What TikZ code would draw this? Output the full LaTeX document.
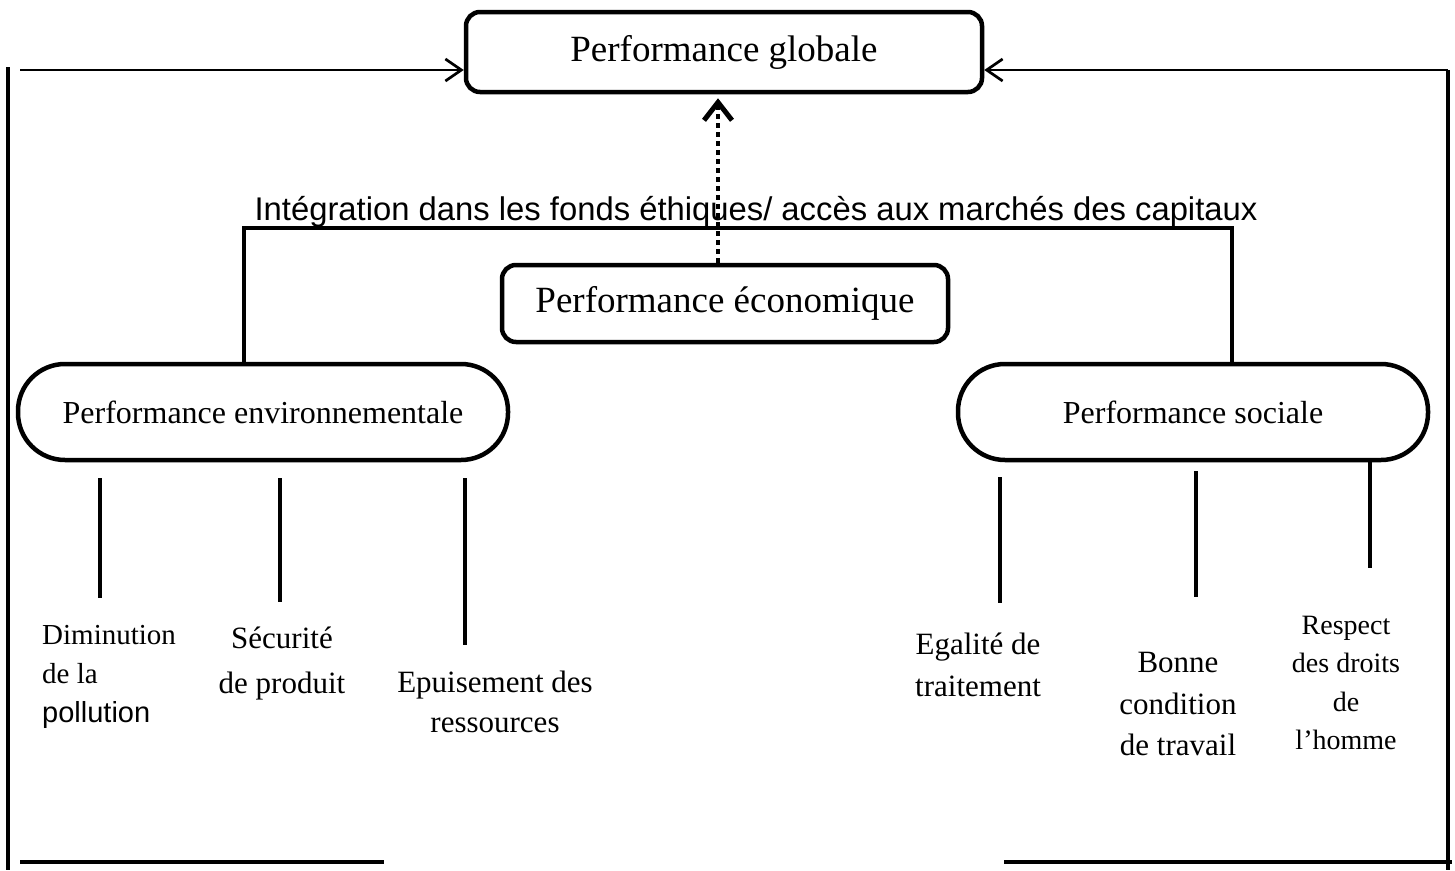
\documentclass[tikz,border=0pt]{standalone}
\usepackage{fontspec}
\setmainfont{Liberation Serif}
\newfontfamily\arialfont{Liberation Sans}
\usetikzlibrary{arrows.meta}

\tikzset{
  box/.style={draw, line width=4.5pt, rounded corners=14pt, inner sep=0pt,
    font=\fontsize{37}{44}\selectfont},
  pill/.style={draw, line width=4.5pt, rounded corners=47pt, inner sep=0pt,
    minimum height=96pt, font=\fontsize{32}{38}\selectfont},
  lbl/.style={inner sep=0pt, align=center},
  link/.style={line width=3.8pt},
  arr/.style={line width=2.7pt, -{Straight Barb[length=16pt,width=22pt]}},
  dotarr/.style={line width=4.5pt, dash pattern=on 4.5pt off 4.5pt,
    -{Straight Barb[length=18pt,width=28pt,line width=5pt]}}
}

\begin{document}
\begin{tikzpicture}[x=1pt, y=-1pt]
\useasboundingbox (0,0) rectangle (1455,870);

% main nodes
\node[box, minimum width=516pt, minimum height=80pt] (global) at (724,52) {Performance globale};
\node[box, minimum width=446pt, minimum height=77pt] (econ) at (725,303.5) {Performance économique};
\node[pill, minimum width=490pt] (env) at (263,412) {Performance environnementale};
\node[pill, minimum width=470pt] (soc) at (1193,412) {Performance sociale};

% label of the ethical funds bracket
\node[inner sep=0pt, anchor=base, font=\arialfont\fontsize{32.8}{38}\selectfont] (integ) at (756,220)
  {Intégration dans les fonds éthiques/ accès aux marchés des capitaux};

% bracket joining the environmental and social sides
\coordinate (ileft) at (244,228);
\coordinate (iright) at (1232,228);
\draw[link] (ileft |- env.north) -- (ileft) -- (iright) -- (iright |- soc.north);

% dotted arrow from the economic box up to the global box
\coordinate (dx) at (718,0);
\coordinate (gtip) at ([yshift=-4pt]global.south);
\draw[dotarr] (econ.north -| dx) -- (gtip -| dx);

% outer frame with arrows into the global box
\coordinate (la) at (20,70);
\coordinate (lv1) at (8,67);
\coordinate (lv2) at (8,870);
\coordinate (rt) at (1448,70);
\coordinate (rb) at (1448,870);
\coordinate (bl1) at (20,862);
\coordinate (bl2) at (384,862);
\coordinate (br1) at (1004,862);
\coordinate (br2) at (1452,862);
\draw[arr] (la) -- (la -| global.west);
\draw[arr] (rt) -- (rt -| global.east);
\draw[link] (lv1) -- (lv2);
\draw[link] (rt) -- (rb);
\draw[link] (bl1) -- (bl2);
\draw[link] (br1) -- (br2);

% environmental indicators
\coordinate (e1t) at (100,478); \coordinate (e1b) at (100,598);
\coordinate (e2t) at (280,478); \coordinate (e2b) at (280,602);
\coordinate (e3t) at (465,478); \coordinate (e3b) at (465,645);
\draw[link] (e1t) -- (e1b);
\draw[link] (e2t) -- (e2b);
\draw[link] (e3t) -- (e3b);

\node[inner sep=0pt, align=left, anchor=west, font=\fontsize{29}{39}\selectfont] (dim) at (42,676.5)
  {Diminution\\de la\\{\arialfont pollution}};
\node[lbl, font=\fontsize{31}{45}\selectfont] (secu) at (282,663.5) {Sécurité\\de produit};
\node[lbl, font=\fontsize{31}{40}\selectfont] (epu) at (495,701.5) {Epuisement des\\ressources};

% social indicators
\coordinate (s1t) at (1000,477); \coordinate (s1b) at (1000,603);
\coordinate (s2t) at (1196,471); \coordinate (s2b) at (1196,597);
\coordinate (s3b) at (1370,568);
\draw[link] (s1t) -- (s1b);
\draw[link] (s2t) -- (s2b);
\draw[link] (soc.south -| s3b) -- (s3b);

\node[lbl, font=\fontsize{31}{42}\selectfont] (ega) at (978,664.5) {Egalité de\\traitement};
\node[lbl, font=\fontsize{31}{41.5}\selectfont] (bonne) at (1178,704) {Bonne\\condition\\de travail};
\node[lbl, font=\fontsize{28}{38.5}\selectfont] (resp) at (1346,683) {Respect\\des droits\\de\\l’homme};
\end{tikzpicture}
\end{document}
